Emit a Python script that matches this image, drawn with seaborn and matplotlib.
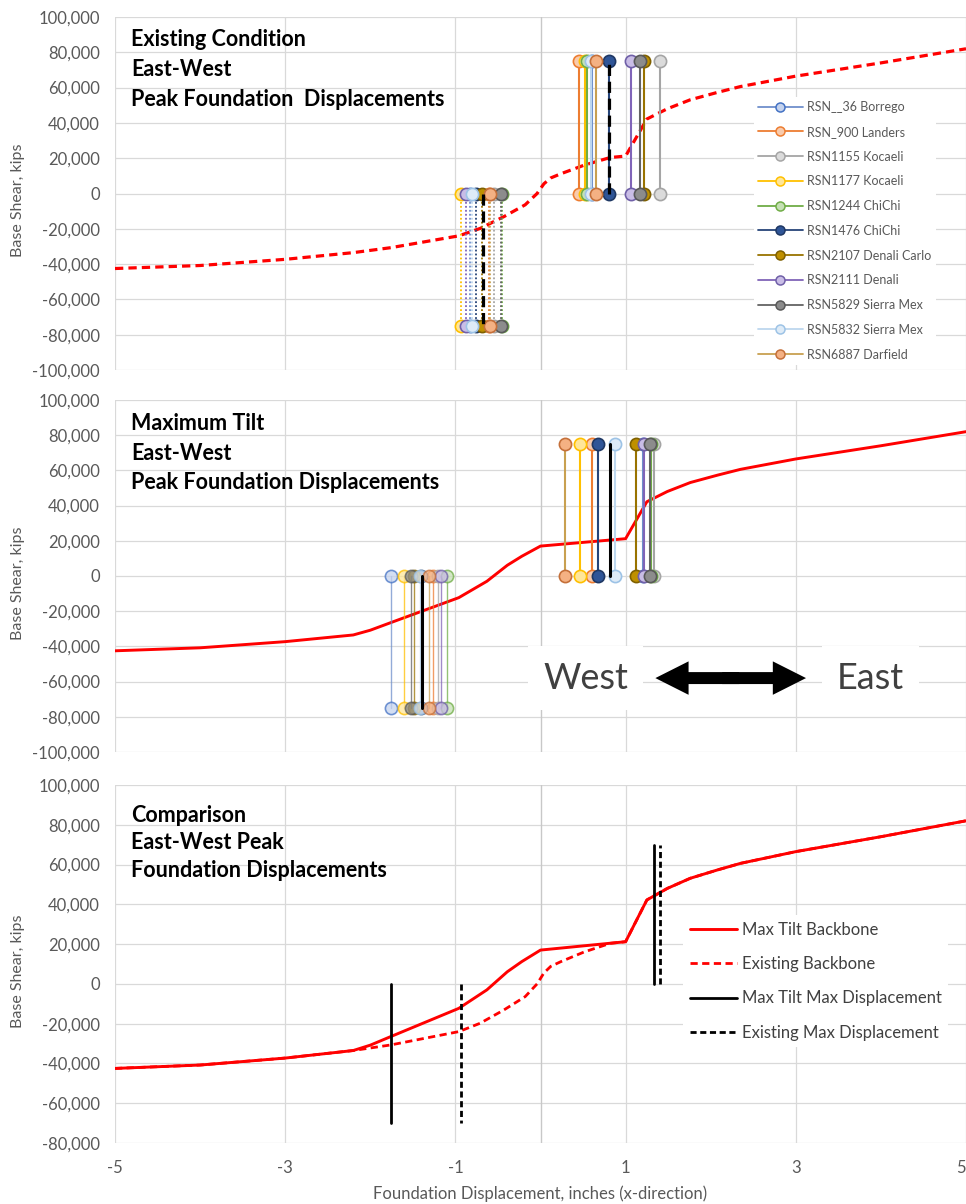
import numpy as np
import pandas as pd
import seaborn as sns
import matplotlib
matplotlib.use("Agg")
import matplotlib.pyplot as plt
from matplotlib.lines import Line2D
from matplotlib.patches import FancyArrow
from matplotlib.ticker import FuncFormatter

# ---------------------------------------------------------------- data
records = ["RSN__36 Borrego", "RSN_900 Landers", "RSN1155 Kocaeli",
           "RSN1177 Kocaeli", "RSN1244 ChiChi", "RSN1476 ChiChi",
           "RSN2107 Denali Carlo", "RSN2111 Denali", "RSN5829 Sierra Mex",
           "RSN5832 Sierra Mex", "RSN6887 Darfield"]

# peak foundation displacements (in), existing condition
existing_west = [-0.83, -0.61, -0.55, -0.94, -0.45, -0.76, -0.69, -0.88, -0.47, -0.80, -0.59]
existing_east = [0.60, 0.45, 1.41, 0.52, 0.55, 0.80, 1.22, 1.06, 1.17, 0.59, 0.65]
# peak foundation displacements (in), maximum tilt
maxtilt_west = [-1.76, -1.26, -1.20, -1.60, -1.10, -1.40, -1.49, -1.17, -1.52, -1.42, -1.31]
maxtilt_east = [1.20, 0.61, 1.33, 0.47, 1.30, 0.67, 1.12, 1.22, 1.29, 0.88, 0.29]

peak_shear = 75000          # shear level at which record peaks are plotted
envelope_shear = 70000      # shear level of the max displacement markers

existing_mean = [-0.68, 0.80]
maxtilt_mean = [-1.39, 0.82]
existing_max = [-0.94, 1.41]
maxtilt_max = [-1.76, 1.33]

# backbone curves: displacement (in) vs base shear (kips)
maxtilt_bb_x = [-5, -4, -3, -2.2, -2.0, -1.76, -0.96, -0.63, -0.39, -0.22, 0.0,
                1.0, 1.25, 1.49, 1.76, 2.08, 2.35, 3, 4, 5]
maxtilt_bb_y = [-42500, -40800, -37300, -33500, -30800, -26500, -12300, -3000, 6100,
                11200, 17000, 21200, 42200, 48000, 53100, 57300, 60600, 66500, 74000, 82000]
existing_bb_x = [-5, -4, -3, -2.2, -1.76, -0.96, -0.71, -0.43, -0.18, -0.04, 0.04,
                 0.12, 0.24, 0.51, 0.82, 1.0, 1.25, 1.49, 1.76, 2.08, 2.35, 3, 4, 5]
existing_bb_y = [-42500, -40800, -37300, -33500, -30700, -24000, -19800, -13100, -6400,
                 0, 5500, 8800, 11200, 16000, 20400, 21200, 42200, 48000, 53100, 57300,
                 60600, 66500, 74000, 82000]

x_ticks = [-5, -3, -1, 1, 3, 5]

# ---------------------------------------------------------------- styling
line_colors = ["#6F8FCB", "#ED7D31", "#A5A5A5", "#FFC000", "#70AD47", "#264478",
               "#997300", "#8064B8", "#636363", "#BDD7EE", "#C8A050"]
edge_colors = ["#4472C4", "#ED7D31", "#A5A5A5", "#FFC000", "#70AD47", "#1F3864",
               "#7F6000", "#7060A8", "#595959", "#9DC3E6", "#C5703A"]
face_colors = ["#C5D3EE", "#F8CBAD", "#DBDBDB", "#FFE699", "#C5E0B4", "#2F5597",
               "#BF9000", "#C9BDE6", "#8C8C8C", "#DEEBF7", "#F4B183"]

sns.set_theme(style="whitegrid")
plt.rcParams["font.family"] = ["Lato", "DejaVu Sans"]
GRID = "#D9D9D9"
TXT = "#595959"

fig = plt.figure(figsize=(9.66, 12.04), dpi=100)
L, R = 115 / 966, 1.0
def frac(top_px, bot_px):
    return [L, 1 - bot_px / 1204, R - L, (bot_px - top_px) / 1204]

ax_top = fig.add_axes(frac(17, 370))
ax_mid = fig.add_axes(frac(400, 752))
ax_bot = fig.add_axes(frac(785, 1143))

thousands = FuncFormatter(lambda v, p: f"{v:,.0f}")

def base_axes(ax, ylo, yhi, show_x):
    ax.set_facecolor("white")
    ax.set_xlim(-5, 5)
    ax.set_ylim(ylo, yhi)
    ax.set_xticks(x_ticks)
    ax.set_yticks(np.arange(ylo, yhi + 1, 20000))
    ax.yaxis.set_major_formatter(thousands)
    ax.grid(True, color=GRID, lw=0.9)
    ax.axvline(0, color="#C8C8C8", lw=1.0, zorder=0.6)
    for s in ax.spines.values():
        s.set_visible(False)
    ax.tick_params(axis="y", length=0, labelsize=12, labelcolor=TXT, pad=11)
    ax.tick_params(axis="x", length=0, labelsize=12, labelcolor=TXT, pad=12)
    if not show_x:
        ax.tick_params(labelbottom=False)
    ax.set_ylabel("Base Shear, kips", fontsize=11.5, color=TXT)
    ax.yaxis.set_label_coords(-0.106, 0.48)
    ax.set_xlabel("")

def titles(ax, lines, ys):
    for t, y in zip(lines, ys):
        ax.text(0.019, y, t, transform=ax.transAxes, fontsize=15.5,
                fontweight="bold", color="black", va="center", ha="left", zorder=6)

def backbone(ax, xs, ys, dashed, lw):
    df = pd.DataFrame({"disp": xs, "shear": ys})
    sns.lineplot(data=df, x="disp", y="shear", ax=ax, color="#FF0000", lw=lw,
                 estimator=None, sort=False, zorder=3)
    line = ax.lines[-1]
    if dashed:
        line.set_dashes((2.6, 1.6))
    return line

def record_lines(ax, west, east, west_style):
    for i in range(len(records)):
        kw = dict(marker="o", ms=8.8, mew=1.2, mec=edge_colors[i], mfc=face_colors[i], zorder=4)
        if west_style == "dotted":
            ax.plot([west[i], west[i]], [0, -peak_shear], color=line_colors[i],
                    lw=1.3, ls=(0, (1, 1.2)), **kw)
        else:
            ax.plot([west[i], west[i]], [0, -peak_shear], color=line_colors[i],
                    lw=1.0, alpha=0.75, **kw)
        ax.plot([east[i], east[i]], [0, peak_shear], color=line_colors[i], lw=1.5, **kw)

# ---------------------------------------------------------------- existing condition
base_axes(ax_top, -100000, 100000, False)
backbone(ax_top, existing_bb_x, existing_bb_y, True, 2.3)
record_lines(ax_top, existing_west, existing_east, "dotted")
for d in existing_mean:
    ax_top.plot([d, d], [0, np.sign(d) * peak_shear], color="black", lw=2.3,
                dashes=(3.5, 1.8), zorder=5)
titles(ax_top, ["Existing Condition", "East-West", "Peak Foundation  Displacements"],
       [0.937, 0.852, 0.765])
handles = [Line2D([0], [0], color=line_colors[i], lw=1.3, marker="o", ms=6.5, mew=1.1,
                  mec=edge_colors[i], mfc=face_colors[i]) for i in range(len(records))]
leg = ax_top.legend(handles, records, loc="upper left", bbox_to_anchor=(0.743, 0.792),
                    fontsize=9, labelspacing=1.02, handlelength=3.6, handletextpad=0.35,
                    borderpad=0.35, frameon=True, facecolor="white", edgecolor="none",
                    framealpha=1, fancybox=False)
for t in leg.get_texts():
    t.set_color(TXT)
leg.set_zorder(7)

# ---------------------------------------------------------------- maximum tilt
base_axes(ax_mid, -100000, 100000, False)
backbone(ax_mid, maxtilt_bb_x, maxtilt_bb_y, False, 2.1)
record_lines(ax_mid, maxtilt_west, maxtilt_east, "thin")
for d in maxtilt_mean:
    ax_mid.plot([d, d], [0, np.sign(d) * peak_shear], color="black", lw=2.2, zorder=5)
titles(ax_mid, ["Maximum Tilt", "East-West", "Peak Foundation Displacements"],
       [0.932, 0.848, 0.766])

box = dict(boxstyle="square,pad=0.42", facecolor="white", edgecolor="none")
ax_mid.text(0.53, -58000, "West", fontsize=26, color="#404040", ha="center",
            va="center", bbox=box, zorder=6)
ax_mid.text(3.88, -58000, "East", fontsize=26, color="#404040", ha="center",
            va="center", bbox=box, zorder=6)
mid_x = (1.35 + 3.12) / 2
for end, start in ((1.35, mid_x + 0.1), (3.12, mid_x - 0.1)):
    ax_mid.add_patch(FancyArrow(start, -58000, end - start, 0, width=6800,
                                head_width=19000, head_length=0.39,
                                length_includes_head=True, color="black", lw=0,
                                zorder=6))

# ---------------------------------------------------------------- comparison
base_axes(ax_bot, -80000, 100000, True)
h1 = backbone(ax_bot, maxtilt_bb_x, maxtilt_bb_y, False, 2.1)
h2 = backbone(ax_bot, existing_bb_x, existing_bb_y, True, 2.0)
for d in maxtilt_max:
    h3, = ax_bot.plot([d, d], [0, np.sign(d) * envelope_shear], color="black",
                      lw=2.0, zorder=5)
for d in existing_max:
    h4, = ax_bot.plot([d, d], [0, np.sign(d) * envelope_shear], color="black",
                      lw=2.0, dashes=(2.2, 1.3), zorder=5)
titles(ax_bot, ["Comparison", "East-West Peak", "Foundation Displacements"],
       [0.916, 0.838, 0.760])
ax_bot.set_xticklabels([str(v) for v in x_ticks])
# keep the right-most tick label inside the canvas
ax_bot.get_xticklabels()[-1].set_horizontalalignment("right")
ax_bot.set_xlabel("Foundation Displacement, inches (x-direction)", fontsize=12,
                  color=TXT, labelpad=7)
leg2 = ax_bot.legend([h1, h2, h3, h4],
                     ["Max Tilt Backbone", "Existing Backbone",
                      "Max Tilt Max Displacement", "Existing Max Displacement"],
                     loc="upper left", bbox_to_anchor=(0.658, 0.66), fontsize=12,
                     labelspacing=1.1, handlelength=2.8, handletextpad=0.3,
                     borderpad=0.4, frameon=True, facecolor="white", edgecolor="none",
                     framealpha=1, fancybox=False)
for t in leg2.get_texts():
    t.set_color("#404040")
leg2.set_zorder(7)

fig.savefig("out.png", dpi=100, facecolor="white")
